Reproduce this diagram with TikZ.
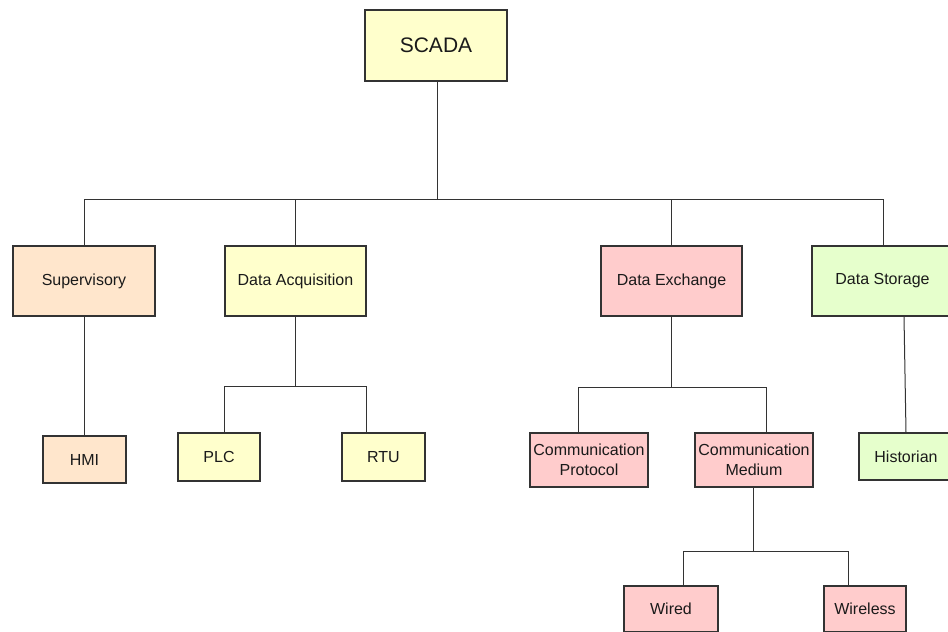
\documentclass[tikz,border=0pt]{standalone}
\usepackage{fontspec}
\setmainfont{Liberation Sans}
\begin{document}
\definecolor{edge}{HTML}{333333}
\definecolor{ink}{HTML}{1A1A1A}
\definecolor{fyellow}{HTML}{FFFFCC}
\definecolor{forange}{HTML}{FFE6CC}
\definecolor{fred}{HTML}{FFCCCC}
\definecolor{fgreen}{HTML}{E6FFCC}
\begin{tikzpicture}[x=1pt,y=-1pt,
  box/.style={draw=edge, line width=1.2pt, inner sep=0pt, align=center,
    text=ink, font=\fontsize{16}{19.7}\selectfont},
  link/.style={draw=edge, line width=1pt},
  yel/.style={box, fill=fyellow},
  ora/.style={box, fill=forange},
  red/.style={box, fill=fred},
  grn/.style={box, fill=fgreen}]
\useasboundingbox (0,0) rectangle (948,632);
\clip (0,0) rectangle (948,632);

% root
\node[yel, minimum width=142pt, minimum height=71pt, font=\fontsize{21}{25}\selectfont]
  (scada) at (436,45.5) {SCADA};

% first level
\node[ora, minimum width=142pt, minimum height=70pt] (sup) at (84,281) {Supervisory};
\node[yel, minimum width=141pt, minimum height=70pt] (daq) at (295.5,281) {Data Acquisition};
\node[red, minimum width=141pt, minimum height=70pt] (dex) at (671.5,281) {Data Exchange};
\node[grn, minimum width=141pt, minimum height=70pt] (dst) at (882.5,281) {Data Storage};

% second level
\node[ora, minimum width=83pt, minimum height=47pt] (hmi) at (84.5,459.5) {HMI};
\node[yel, minimum width=82pt, minimum height=48pt] (plc) at (219,457) {PLC};
\node[yel, minimum width=83pt, minimum height=48pt] (rtu) at (383.5,457) {RTU};
\node[red, minimum width=118pt, minimum height=54pt] (cpr) at (589,460) {Communication\\Protocol};
\node[red, minimum width=118pt, minimum height=54pt] (cme) at (754,460) {Communication\\Medium};
\node[grn, minimum width=94pt, minimum height=47pt] (his) at (906,456.5) {Historian};

% third level
\node[red, minimum width=94pt, minimum height=46pt] (wir) at (671,609) {Wired};
\node[red, minimum width=82pt, minimum height=46pt] (wls) at (865,609) {Wireless};

% bus under the root
\coordinate (bus) at (437,199);
\draw[link] ([xshift=1pt]scada.south) -- ([xshift=1pt]scada.south |- bus);
\draw[link] (sup.north) -- (sup.north |- bus) -- ([xshift=0.5pt]dst.north |- bus) -- ([xshift=0.5pt]dst.north);
\draw[link] (daq.north) -- (daq.north |- bus);
\draw[link] (dex.north) -- (dex.north |- bus);

% supervisory branch
\draw[link] (sup.south) -- (sup.south |- hmi.north);

% acquisition branch
\coordinate (daqbus) at (295.5,386);
\draw[link] (daq.south) -- (daqbus);
\draw[link] (daq.south west |- plc.north) -- (daq.south west |- daqbus)
  -- (daq.south east |- daqbus) -- (daq.south east |- rtu.north);

% exchange branch
\coordinate (dexbus) at (672,387);
\draw[link] (dex.south) -- (dex.south |- dexbus);
\draw[link] ([xshift=-11pt]cpr.north) -- ([xshift=-11pt]cpr.north |- dexbus)
  -- ([xshift=12pt]cme.north |- dexbus) -- ([xshift=12pt]cme.north);

% medium branch
\coordinate (cmebus) at (753,551);
\draw[link] ([xshift=-1pt]cme.south) -- (cmebus);
\draw[link] ([xshift=12pt]wir.north) -- ([xshift=12pt]wir.north |- cmebus)
  -- ([xshift=-17pt]wls.north |- cmebus) -- ([xshift=-17pt]wls.north);

% storage branch
\draw[link] ([xshift=21.5pt]dst.south) -- (his.north);
\end{tikzpicture}
\end{document}
